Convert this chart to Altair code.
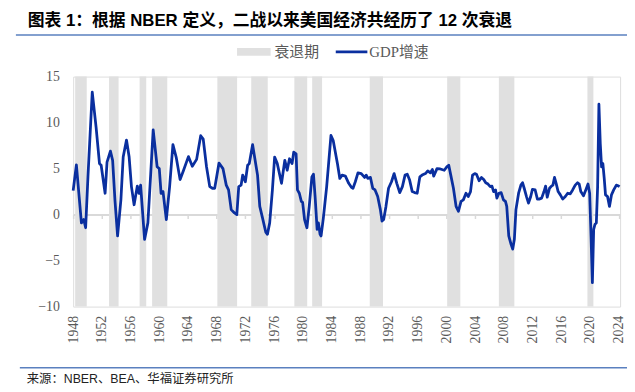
import altair as alt
import pandas as pd

# ---- data ----
rec_start = [1948.28, 1953.0, 1957.26, 1959.0, 1968.09, 1972.81, 1978.82, 1981.3,
             1989.32, 2000.11, 2007.31, 2019.65]
rec_end = [1949.89, 1954.33, 1958.18, 1961.11, 1970.84, 1975.11, 1980.61, 1982.68,
           1991.17, 2001.94, 2009.47, 2020.48]

gdp_year = [
    1948.0, 1948.45, 1949.15, 1949.47, 1949.74, 1950.06, 1950.66, 1951.2, 1951.67, 1951.9,
    1952.45, 1952.72, 1953.19, 1953.5, 1953.82, 1954.19, 1954.65, 1954.97, 1955.43, 1955.8,
    1956.12, 1956.49, 1956.94, 1957.18, 1957.4, 1957.95, 1958.41, 1958.78, 1959.15, 1959.7,
    1960.0, 1960.25, 1960.52, 1960.98, 1961.44, 1961.9, 1962.35, 1962.9, 1963.37, 1964.06,
    1964.6, 1965.2, 1965.77, 1966.12, 1966.58, 1967.03, 1967.4, 1967.72, 1968.32, 1968.87,
    1969.33, 1969.65, 1970.02, 1970.48, 1970.8, 1971.07, 1971.4, 1971.62, 1971.99, 1972.31,
    1972.54, 1973.0, 1973.69, 1974.0, 1974.38, 1974.83, 1975.07, 1975.38, 1975.76, 1976.07,
    1976.44, 1977.03, 1977.49, 1977.82, 1978.14, 1978.5, 1978.73, 1979.06, 1979.25, 1979.51,
    1979.79, 1979.97, 1980.24, 1980.57, 1980.89, 1981.26, 1981.48, 1981.71, 1981.99, 1982.17,
    1982.4, 1982.54, 1982.86, 1983.32, 1983.92, 1984.23, 1984.83, 1985.15, 1985.47, 1985.93,
    1986.39, 1986.76, 1986.99, 1987.31, 1987.68, 1988.14, 1988.6, 1988.83, 1989.05, 1989.42,
    1989.74, 1990.06, 1990.43, 1990.8, 1991.03, 1991.26, 1991.58, 1991.94, 1992.35, 1992.72,
    1993.09, 1993.5, 1993.87, 1994.24, 1994.55, 1994.88, 1995.24, 1995.57, 1995.93, 1996.3,
    1996.62, 1997.08, 1997.4, 1997.77, 1998.05, 1998.23, 1998.69, 1999.15, 1999.7, 2000.06,
    2000.33, 2000.61, 2000.98, 2001.35, 2001.67, 2002.04, 2002.36, 2002.73, 2003.04, 2003.36,
    2003.64, 2003.96, 2004.19, 2004.56, 2004.88, 2005.2, 2005.48, 2005.8, 2006.11, 2006.35,
    2006.58, 2006.85, 2007.03, 2007.31, 2007.63, 2007.95, 2008.23, 2008.41, 2008.69, 2009.0,
    2009.24, 2009.47, 2009.69, 2010.06, 2010.38, 2010.61, 2010.84, 2011.16, 2011.44, 2011.75,
    2011.99, 2012.36, 2012.68, 2012.91, 2013.27, 2013.6, 2013.82, 2014.05, 2014.37, 2014.64,
    2014.84, 2015.06, 2015.29, 2015.57, 2015.88, 2016.21, 2016.57, 2016.9, 2017.26, 2017.59,
    2017.95, 2018.28, 2018.5, 2018.73, 2019.1, 2019.42, 2019.73, 2019.96, 2020.15, 2020.34,
    2020.52, 2020.7, 2020.89, 2021.07, 2021.25, 2021.44, 2021.62, 2021.8, 2021.99, 2022.17,
    2022.45, 2022.72, 2023.0, 2023.31, 2023.68, 2023.91, 2024.13]
gdp_value = [
    2.6, 5.4, -0.9, -0.54, -1.43, 4.1, 13.3, 9.46, 5.54, 5.36,
    2.32, 5.71, 6.89, 5.9, 1.6, -2.32, 1.6, 6.25, 8.1, 6.25,
    3.04, 1.07, 3.1, 2.3, 3.2, -2.7, -0.9, 4.1, 9.2, 5.2,
    5.0, 2.3, 2.5, -0.54, 3.04, 7.6, 6.25, 3.8, 4.8, 6.3,
    5.25, 6.0, 8.57, 8.2, 5.2, 3.04, 2.86, 2.86, 5.6, 5.0,
    3.2, 2.68, 0.54, 0.18, 0.0, 3.04, 3.2, 4.3, 3.57, 5.36,
    5.54, 7.6, 4.29, 0.89, -0.36, -1.9, -2.14, -0.9, 2.68, 6.25,
    5.54, 3.4, 5.9, 4.82, 6.07, 5.54, 6.79, 6.61, 2.68, 2.32,
    1.43, 1.32, -0.54, -1.43, 0.89, 4.1, 4.39, 1.96, -1.6, -0.9,
    -2.14, -2.32, -0.36, 3.04, 8.6, 8.04, 5.5, 3.93, 4.29, 4.18,
    3.4, 2.97, 2.86, 3.57, 4.54, 4.46, 4.04, 4.29, 3.93, 4.04,
    2.86, 2.68, 1.96, 0.54, -0.71, -0.54, 0.89, 2.86, 3.57, 4.46,
    3.4, 2.39, 3.04, 4.29, 4.39, 3.75, 2.5, 2.39, 2.32, 4.1,
    4.29, 4.46, 4.75, 4.54, 4.9, 4.18, 5.0, 4.96, 4.82, 5.18,
    5.36, 4.29, 2.86, 0.89, 0.36, 1.43, 1.6, 2.32, 1.96, 2.5,
    4.29, 4.46, 4.39, 3.68, 4.04, 3.82, 3.46, 3.32, 3.04, 3.1,
    2.5, 2.68, 1.79, 2.32, 2.39, 1.6, 1.43, 0.89, -2.32, -3.2,
    -3.75, -2.68, 0.54, 2.32, 3.2, 3.46, 2.86, 1.96, 1.25, 1.96,
    2.75, 2.68, 1.68, 1.68, 1.79, 2.5, 3.1, 1.89, 2.86, 3.1,
    3.2, 4.04, 3.4, 2.5, 2.14, 1.68, 1.96, 2.32, 2.25, 2.68,
    3.2, 3.46, 3.32, 2.5, 2.04, 2.68, 3.32, 2.32, -2.32, -7.4,
    -1.6, -1.07, -0.9, 3.04, 12.0, 7.68, 5.18, 5.54, 3.93, 2.14,
    1.96, 0.89, 2.14, 2.68, 3.2, 3.14, 3.04]

x_ticks = list(range(1948, 2025, 4))
y_ticks = [-10, -5, 0, 5, 10, 15]

title_text = "图表 1：根据 NBER 定义，二战以来美国经济共经历了 12 次衰退"
source_text = "来源：NBER、BEA、华福证券研究所"
legend_labels = ["衰退期", "GDP增速"]

# ---- layout ----
W, H = 554, 233
X_DOMAIN = [1948, 2024.2]
Y_DOMAIN = [-10, 15]
SERIF = "Liberation Serif, Times New Roman, Noto Sans CJK SC"
SANS = "Liberation Sans, Arial, Noto Sans CJK SC"
LINE_BLUE = "#0A2F9F"
REC_GRAY = "#E0E0E0"
FRAME_BLUE = "#5A80BF"
AXIS_GRAY = "#595959"

rec_df = pd.DataFrame({"start": rec_start, "end": rec_end})
gdp_df = pd.DataFrame({"year": gdp_year, "gdp": gdp_value})

xscale = alt.Scale(domain=X_DOMAIN, nice=False, zero=False)
yscale = alt.Scale(domain=Y_DOMAIN, nice=False, zero=False)

x_axis = alt.Axis(
    values=x_ticks, format="d", labelAngle=-90, title=None,
    offset=-H * 10 / 25, domainColor="#D9D9D9", domainWidth=2,
    tickColor="#D9D9D9", tickSize=4, tickWidth=1.5,
    labelPadding=98, labelFont=SERIF, labelFontSize=14,
    labelColor=AXIS_GRAY, labelOverlap=False, labelFlush=False,
    labelBound=False, labelSeparation=0, grid=False)

bars = alt.Chart(rec_df).mark_rect(color=REC_GRAY).encode(
    x=alt.X("start:Q", scale=xscale, axis=x_axis),
    x2="end:Q",
)

line = alt.Chart(gdp_df).mark_line(color=LINE_BLUE, strokeWidth=2.8,
                                   strokeJoin="round").encode(
    x=alt.X("year:Q", scale=xscale, axis=x_axis),
    y=alt.Y("gdp:Q", scale=yscale, axis=alt.Axis(
        values=y_ticks, title=None, domain=False, ticks=False, tickSize=0,
        grid=False, labelPadding=14, labelFont=SERIF, labelFontSize=14,
        labelColor=AXIS_GRAY)),
)


def text_mark(txt, x, y, size, font, color, weight="normal"):
    return alt.Chart(pd.DataFrame({"t": [txt]})).mark_text(
        align="left", baseline="middle", font=font, fontSize=size,
        fontWeight=weight, color=color).encode(
        x=alt.value(x), y=alt.value(y), text="t:N")


def hrule(x1, x2, y, color, width):
    return alt.Chart(pd.DataFrame({"a": [0]})).mark_rule(
        color=color, strokeWidth=width).encode(
        x=alt.value(x1), x2=alt.value(x2), y=alt.value(y))


title = text_mark(title_text, -46, -56, 17, SANS, "#000000", "bold")
top_line = hrule(-58, 561, -42, FRAME_BLUE, 1.5)
bottom_line = hrule(-54, 561, 295, FRAME_BLUE, 1.5)
source = text_mark(source_text, -47, 306, 12.5, SANS, "#222222")

leg_rect = alt.Chart(pd.DataFrame({"a": [0]})).mark_rect(color=REC_GRAY).encode(
    x=alt.value(166), x2=alt.value(200), y=alt.value(-29), y2=alt.value(-21))
leg_text1 = text_mark(legend_labels[0], 204, -25, 15, SERIF, AXIS_GRAY)
leg_line = hrule(266, 298, -25, LINE_BLUE, 3)
leg_text2 = text_mark(legend_labels[1], 300, -25, 15, SERIF, AXIS_GRAY)

chart = alt.layer(
    bars, line, title, top_line, bottom_line, source,
    leg_rect, leg_text1, leg_line, leg_text2
).properties(
    width=W, height=H,
    autosize=alt.AutoSizeParams(type="none"),
    padding={"left": 66, "top": 67, "right": 7, "bottom": 80},
).configure_view(stroke=None).configure(background="white")

chart.save("out.html", embed_options={"renderer": "svg", "actions": False})
